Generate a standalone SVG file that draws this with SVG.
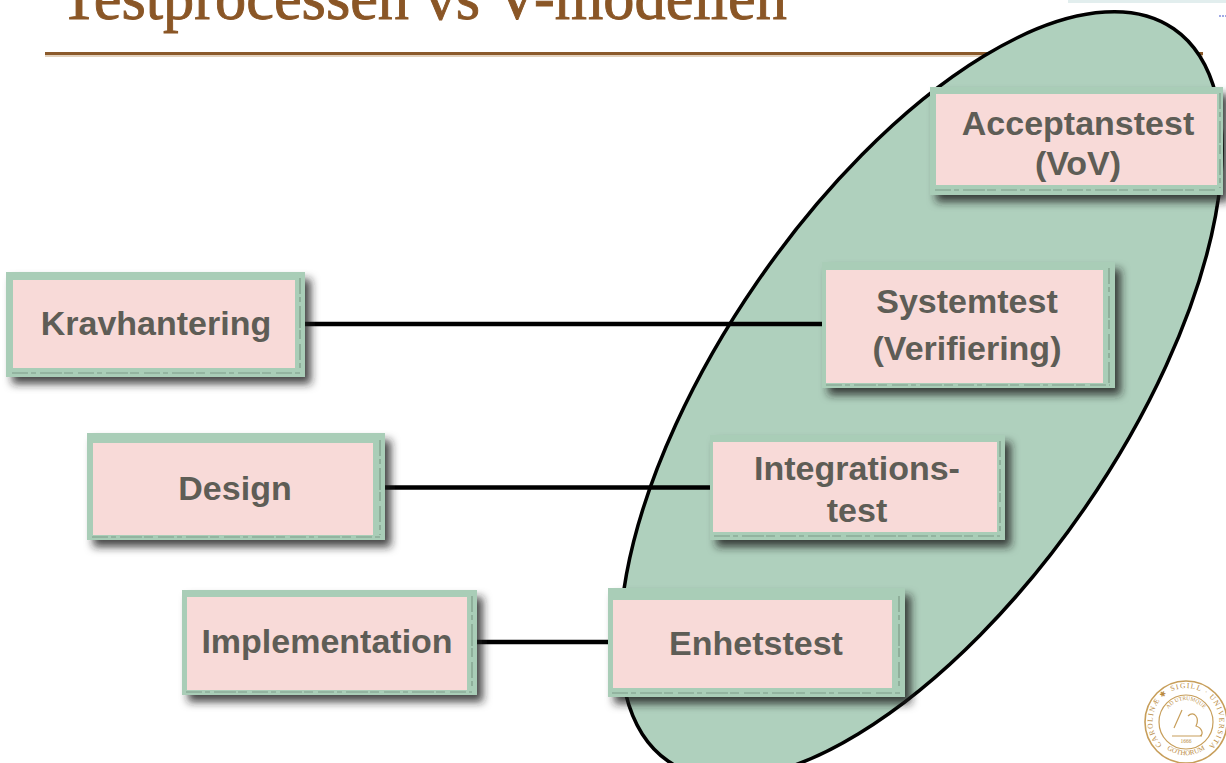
<svg xmlns="http://www.w3.org/2000/svg" xmlns:xlink="http://www.w3.org/1999/xlink" width="1226" height="763" viewBox="0 0 1226 763">
<style>
.title{font-family:"Liberation Serif","Times New Roman",serif;font-size:62.4px;fill:#8A5626;stroke:#8A5626;stroke-width:0.9px}
.frame{fill:#A9CDB7}
.inner{fill:#F8DAD8}
.scuff{fill:none;stroke:#7F9C89;stroke-width:1.2;stroke-dasharray:16 3 5 4 22 2 9 5}
.lbl{font-family:"Liberation Sans",Arial,sans-serif;font-weight:bold;font-size:34px;fill:#5E5D56;text-anchor:middle}
.conn{stroke:#000;stroke-width:4.5;fill:none}
.seal{fill:none;stroke:#C79E5A}
.sealtxt{font-family:"Liberation Serif","Times New Roman",serif;fill:#B98A3E}
</style>
<defs>
<filter id="shadow" x="-10%" y="-15%" width="125%" height="145%">
<feGaussianBlur in="SourceAlpha" stdDeviation="4"/>
<feOffset dx="6" dy="7" result="ob"/>
<feFlood flood-color="#1e1e1e" flood-opacity="0.8"/>
<feComposite in2="ob" operator="in" result="sh"/>
<feMerge><feMergeNode in="sh"/><feMergeNode in="SourceGraphic"/></feMerge>
</filter>
<path id="sealArc" d="M -24,23 A 33.5 33.5 0 1 1 24,23"/>
<path id="sealLow" d="M -24,23 A 33.5 33.5 0 0 0 24,23"/>
<path id="sealInTop" d="M -22,0 A 22 22 0 0 1 22,0"/>
</defs>
<rect width="1226" height="763" fill="#fff"/>
<rect x="1068" y="0" width="158" height="3" fill="#E2EEEE"/>
<line x1="1219" y1="16" x2="1226" y2="16" stroke="#4455CC" stroke-width="1" stroke-dasharray="2 1"/>
<g id="title">
<text class="title" x="60" y="19">Testprocessen vs V-modellen</text>
<line x1="45" y1="56" x2="1203" y2="56" stroke="#E3D2BE" stroke-width="2"/>
<line x1="45" y1="53.5" x2="1203" y2="53.5" stroke="#8B5A2B" stroke-width="3"/>
</g>
<g id="ellipse">
<ellipse cx="921" cy="395" rx="445" ry="199" transform="rotate(-55.4 921 395)" fill="#AFD0BD" stroke="#000" stroke-width="3.5"/>
</g>
<g id="connectors">
<line class="conn" x1="300" y1="324" x2="826" y2="324"/>
<line class="conn" x1="380" y1="487.5" x2="714" y2="487.5"/>
<line class="conn" x1="470" y1="642" x2="612" y2="642"/>
</g>
<g id="n-krav">
<rect class="frame" x="6" y="272" width="299" height="105" filter="url(#shadow)"/>
<rect class="inner" x="13" y="280" width="282" height="88"/>
<path class="scuff" d="M12,373 H300 M300,278 V372"/>
<text class="lbl" x="156" y="335">Kravhantering</text>
</g>
<g id="n-design">
<rect class="frame" x="87" y="433" width="298" height="107" filter="url(#shadow)"/>
<rect class="inner" x="93" y="443" width="280" height="92"/>
<path class="scuff" d="M92,537 H380 M380,440 V535"/>
<text class="lbl" x="235" y="500">Design</text>
</g>
<g id="n-impl">
<rect class="frame" x="182" y="590" width="295" height="105" filter="url(#shadow)"/>
<rect class="inner" x="187" y="597" width="280" height="93"/>
<path class="scuff" d="M186,692 H472 M472,596 V690"/>
<text class="lbl" x="327" y="653">Implementation</text>
</g>
<g id="n-enhet">
<rect class="frame" x="608" y="588" width="297" height="109" filter="url(#shadow)"/>
<rect class="inner" x="613" y="600" width="279" height="88"/>
<path class="scuff" d="M612,693 H900 M899,596 V690"/>
<text class="lbl" x="756" y="655">Enhetstest</text>
</g>
<g id="n-integ">
<rect class="frame" x="710" y="435" width="295" height="105" filter="url(#shadow)"/>
<rect class="inner" x="713" y="442" width="284" height="90"/>
<path class="scuff" d="M714,536 H1000 M1000,441 V534"/>
<text class="lbl" x="857" y="480">Integrations-</text>
<text class="lbl" x="857" y="522">test</text>
</g>
<g id="n-system">
<rect class="frame" x="822" y="262" width="293" height="126" filter="url(#shadow)"/>
<rect class="inner" x="826" y="270" width="277" height="113"/>
<path class="scuff" d="M826,385 H1110 M1109,268 V383"/>
<text class="lbl" x="967" y="313">Systemtest</text>
<text class="lbl" x="967" y="360">(Verifiering)</text>
</g>
<g id="n-accept">
<rect class="frame" x="930" y="87" width="293" height="108" filter="url(#shadow)"/>
<rect class="inner" x="936" y="94" width="281" height="91"/>
<path class="scuff" d="M935,190 H1218 M1220,93 V188"/>
<text class="lbl" x="1078" y="135">Acceptanstest</text>
<text class="lbl" x="1078" y="175">(VoV)</text>
</g>
<g id="seal-logo" transform="translate(1186,722)">
<circle class="seal" r="41" stroke-width="1.6"/>
<circle class="seal" r="27" stroke-width="1.2"/>
<text class="sealtxt" font-size="7.5"><textPath xlink:href="#sealArc" href="#sealArc" textLength="172" lengthAdjust="spacing">CAROLINÆ ✱ SIGILL · UNIVERSITATIS</textPath></text>
<text class="sealtxt" font-size="7"><textPath xlink:href="#sealLow" href="#sealLow" startOffset="50%" text-anchor="middle">GOTHORUM</textPath></text>
<text class="sealtxt" font-size="5.5"><textPath xlink:href="#sealInTop" href="#sealInTop" startOffset="50%" text-anchor="middle">AD UTRUMQUE</textPath></text>
<text class="sealtxt" font-size="5.5" x="0" y="21" text-anchor="middle">1666</text>
<path d="M-14,14 H16 M-12,6 L-4,-12 M2,-6 C8,-12 14,-4 10,4 C16,6 18,12 14,14" fill="none" stroke="#C79E5A" stroke-width="1.2"/>
</g>
</svg>
